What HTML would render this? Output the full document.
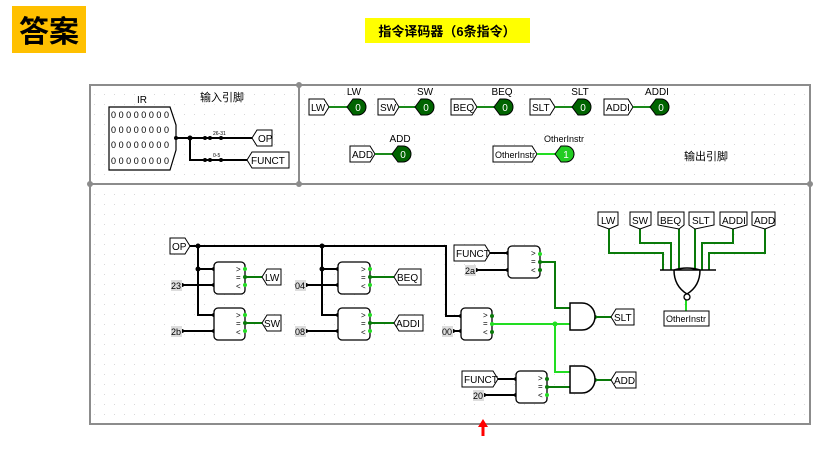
<!DOCTYPE html>
<html><head><meta charset="utf-8"><style>
body{margin:0;background:#fff;width:829px;height:458px;overflow:hidden}
svg text{font-family:"Liberation Sans","Noto Sans CJK SC",sans-serif}
</style></head><body>
<svg width="829" height="458" viewBox="0 0 829 458" xmlns="http://www.w3.org/2000/svg">
<defs>
<pattern id="dots" width="10" height="10" patternUnits="userSpaceOnUse"><rect x="4" y="4" width="1" height="1" fill="#d8d8d8"/></pattern>
</defs>
<!-- title -->
<rect x="12" y="6" width="74" height="47" fill="#ffc000"/>
<text x="49" y="42" font-size="30" font-weight="bold" text-anchor="middle" font-family="Noto Sans CJK SC,sans-serif">答案</text>
<rect x="365" y="18" width="165" height="25" fill="#ffff00"/>
<text x="447" y="36" font-size="13" font-weight="bold" text-anchor="middle">指令译码器（6条指令）</text>

<!-- frame -->
<rect x="90" y="85" width="720" height="339" fill="url(#dots)" stroke="#8c8c8c" stroke-width="2"/>
<line x1="299" y1="85" x2="299" y2="184" stroke="#8c8c8c" stroke-width="2"/>
<line x1="90" y1="184" x2="810" y2="184" stroke="#8c8c8c" stroke-width="2"/>
<circle cx="299" cy="85" r="3" fill="#8c8c8c"/><circle cx="299" cy="184" r="3" fill="#8c8c8c"/>
<circle cx="90" cy="184" r="3" fill="#8c8c8c"/><circle cx="810" cy="184" r="3" fill="#8c8c8c"/>

<g font-size="10" fill="#000">
<!-- input pins -->
<text x="142" y="103" text-anchor="middle">IR</text>
<text x="222" y="101" text-anchor="middle" font-size="11">输入引脚</text>
<path d="M109,107 H170 L176,125 V150 L170,170 H109 Z" fill="#fff" stroke="#000" stroke-width="1.2"/>
<g font-size="9" font-family="Liberation Mono,monospace">
<text x="111" y="118" textLength="58">00000000</text>
<text x="111" y="133" textLength="58">00000000</text>
<text x="111" y="148" textLength="58">00000000</text>
<text x="111" y="164" textLength="58">00000000</text>
</g>
<g stroke="#000" stroke-width="2" fill="none">
<path d="M176,138 H252"/><path d="M190,138 V160 H247"/>
</g>
<g fill="#000"><circle cx="176" cy="138" r="2"/><circle cx="190" cy="138" r="2.5"/><circle cx="205" cy="138" r="2"/><circle cx="210" cy="138" r="2"/><circle cx="221" cy="138" r="2"/><circle cx="205" cy="160" r="2"/><circle cx="210" cy="160" r="2"/><circle cx="221" cy="160" r="2"/></g>
<text x="213" y="135" font-size="5">26-31</text><text x="213" y="157" font-size="5">0-5</text>
<path d="M252,138 L257,130 H272 V146 H257 Z" fill="#fff" stroke="#000"/><text x="258" y="142">OP</text>
<path d="M247,160 L252,152 H289 V168 H252 Z" fill="#fff" stroke="#000"/><text x="251" y="164">FUNCT</text>

<!-- output pins -->
<g>
<text x="354" y="95" text-anchor="middle">LW</text>
<path d="M309,99 H324 L329,107 L324,115 H309 Z" fill="#fff" stroke="#000"/><text x="311" y="111">LW</text>
<line x1="329" y1="107" x2="347" y2="107" stroke="#1a8a1a" stroke-width="2"/>
<path d="M347,107 L353,99 H358 A8,8 0 0 1 358,115 H353 Z" fill="#006400" stroke="#000"/><text x="358" y="111" fill="#fff" text-anchor="middle">0</text>

<text x="425" y="95" text-anchor="middle">SW</text>
<path d="M378,99 H394 L399,107 L394,115 H378 Z" fill="#fff" stroke="#000"/><text x="380" y="111">SW</text>
<line x1="399" y1="107" x2="415" y2="107" stroke="#1a8a1a" stroke-width="2"/>
<path d="M415,107 L421,99 H426 A8,8 0 0 1 426,115 H421 Z" fill="#006400" stroke="#000"/><text x="426" y="111" fill="#fff" text-anchor="middle">0</text>

<text x="502" y="95" text-anchor="middle">BEQ</text>
<path d="M451,99 H472 L477,107 L472,115 H451 Z" fill="#fff" stroke="#000"/><text x="453" y="111">BEQ</text>
<line x1="477" y1="107" x2="494" y2="107" stroke="#1a8a1a" stroke-width="2"/>
<path d="M494,107 L500,99 H505 A8,8 0 0 1 505,115 H500 Z" fill="#006400" stroke="#000"/><text x="505" y="111" fill="#fff" text-anchor="middle">0</text>

<text x="580" y="95" text-anchor="middle">SLT</text>
<path d="M530,99 H550 L555,107 L550,115 H530 Z" fill="#fff" stroke="#000"/><text x="532" y="111">SLT</text>
<line x1="555" y1="107" x2="572" y2="107" stroke="#1a8a1a" stroke-width="2"/>
<path d="M572,107 L578,99 H583 A8,8 0 0 1 583,115 H578 Z" fill="#006400" stroke="#000"/><text x="583" y="111" fill="#fff" text-anchor="middle">0</text>

<text x="657" y="95" text-anchor="middle">ADDI</text>
<path d="M604,99 H628 L633,107 L628,115 H604 Z" fill="#fff" stroke="#000"/><text x="606" y="111">ADDI</text>
<line x1="633" y1="107" x2="650" y2="107" stroke="#1a8a1a" stroke-width="2"/>
<path d="M650,107 L656,99 H661 A8,8 0 0 1 661,115 H656 Z" fill="#006400" stroke="#000"/><text x="661" y="111" fill="#fff" text-anchor="middle">0</text>

<text x="400" y="142" text-anchor="middle">ADD</text>
<path d="M350,146 H370 L375,154 L370,162 H350 Z" fill="#fff" stroke="#000"/><text x="352" y="158">ADD</text>
<line x1="375" y1="154" x2="392" y2="154" stroke="#1a8a1a" stroke-width="2"/>
<path d="M392,154 L398,146 H403 A8,8 0 0 1 403,162 H398 Z" fill="#006400" stroke="#000"/><text x="403" y="158" fill="#fff" text-anchor="middle">0</text>

<text x="564" y="142" text-anchor="middle" font-size="9">OtherInstr</text>
<path d="M493,146 H532 L537,154 L532,162 H493 Z" fill="#fff" stroke="#000"/><text x="495" y="158" font-size="9">OtherInstr</text>
<line x1="537" y1="154" x2="555" y2="154" stroke="#22dd22" stroke-width="2"/>
<path d="M555,154 L561,146 H566 A8,8 0 0 1 566,162 H561 Z" fill="#22cc22" stroke="#000"/><text x="566" y="158" fill="#fff" text-anchor="middle">1</text>
<text x="706" y="160" text-anchor="middle" font-size="11">输出引脚</text>
</g>

<!-- circuit black wires -->
<g stroke="#000" stroke-width="2" fill="none">
<path d="M190,246 H446 V316 H461"/>
<path d="M198,246 V315 H214"/><path d="M198,269 H214"/>
<path d="M322,246 V315 H338"/><path d="M322,269 H338"/>
<path d="M182,285 H214"/><path d="M182,331 H214"/>
<path d="M306,285 H338"/><path d="M306,331 H338"/>
<path d="M453,331 H461"/>
<path d="M490,253 H508"/><path d="M476,270 H508"/>
<path d="M498,379 H516"/><path d="M484,395 H516"/>
</g>
<g fill="#000">
<circle cx="198" cy="246" r="2.5"/><circle cx="322" cy="246" r="2.5"/><circle cx="198" cy="269" r="2.5"/><circle cx="322" cy="269" r="2.5"/>
<circle cx="214" cy="269" r="2"/><circle cx="214" cy="285" r="2"/><circle cx="214" cy="315" r="2"/><circle cx="214" cy="331" r="2"/>
<circle cx="338" cy="269" r="2"/><circle cx="338" cy="285" r="2"/><circle cx="338" cy="315" r="2"/><circle cx="338" cy="331" r="2"/>
<circle cx="182" cy="285" r="2"/><circle cx="182" cy="331" r="2"/><circle cx="306" cy="285" r="2"/><circle cx="306" cy="331" r="2"/>
<circle cx="461" cy="316" r="2"/><circle cx="461" cy="331" r="2"/><circle cx="453" cy="331" r="2"/>
<circle cx="508" cy="253" r="2"/><circle cx="508" cy="270" r="2"/><circle cx="476" cy="270" r="2"/>
<circle cx="516" cy="379" r="2"/><circle cx="516" cy="395" r="2"/><circle cx="484" cy="395" r="2"/>
</g>
<!-- OP / constants -->
<path d="M170,238 H185 L190,246 L185,254 H170 Z" fill="#fff" stroke="#000"/><text x="172" y="250">OP</text>
<g font-size="9"><rect x="171" y="280" width="11" height="11" fill="#ddd"/><text x="171" y="289">23</text>
<rect x="171" y="326" width="11" height="11" fill="#ddd"/><text x="171" y="335">2b</text>
<rect x="295" y="280" width="11" height="11" fill="#ddd"/><text x="295" y="289">04</text>
<rect x="295" y="326" width="11" height="11" fill="#ddd"/><text x="295" y="335">08</text>
<rect x="442" y="326" width="11" height="11" fill="#ddd"/><text x="442" y="335">00</text>
<rect x="465" y="265" width="11" height="11" fill="#ddd"/><text x="465" y="274">2a</text>
<rect x="473" y="390" width="11" height="11" fill="#ddd"/><text x="473" y="399">20</text></g>
<path d="M454,245 H485 L490,253 L485,261 H454 Z" fill="#fff" stroke="#000"/><text x="456" y="257">FUNCT</text>
<path d="M462,371 H493 L498,379 L493,387 H462 Z" fill="#fff" stroke="#000"/><text x="464" y="383">FUNCT</text>

<!-- comparators -->
<g fill="#fff" stroke="#000" stroke-width="1.3">
<rect x="214" y="262" width="31" height="32" rx="4"/><rect x="214" y="308" width="31" height="32" rx="4"/>
<rect x="338" y="262" width="32" height="32" rx="4"/><rect x="338" y="308" width="32" height="32" rx="4"/>
<rect x="508" y="246" width="32" height="32" rx="4"/><rect x="461" y="308" width="31" height="32" rx="4"/>
<rect x="516" y="371" width="31" height="32" rx="4"/>
</g>
<g font-size="8">
<text x="236" y="272">&gt;</text><text x="236" y="280">=</text><text x="236" y="289">&lt;</text>
<text x="236" y="318">&gt;</text><text x="236" y="326">=</text><text x="236" y="335">&lt;</text>
<text x="361" y="272">&gt;</text><text x="361" y="280">=</text><text x="361" y="289">&lt;</text>
<text x="361" y="318">&gt;</text><text x="361" y="326">=</text><text x="361" y="335">&lt;</text>
<text x="531" y="256">&gt;</text><text x="531" y="264">=</text><text x="531" y="273">&lt;</text>
<text x="483" y="318">&gt;</text><text x="483" y="326">=</text><text x="483" y="335">&lt;</text>
<text x="538" y="381">&gt;</text><text x="538" y="389">=</text><text x="538" y="398">&lt;</text>
</g>
<!-- green wires -->
<g stroke="#0a7a0a" stroke-width="2" fill="none">
<path d="M245,277 H262"/><path d="M245,323 H262"/><path d="M370,277 H394"/><path d="M370,323 H394"/>
<path d="M540,262 H555 V308 H570"/><path d="M547,387 H570"/>
<path d="M595,317 H611"/><path d="M595,380 H611"/>
<path d="M609,229 V253 H663 V270"/><path d="M640,229 V243 H671 V270"/><path d="M679,229 V270"/><path d="M695,229 V270"/><path d="M733,229 V243 H702 V270"/><path d="M765,229 V253 H709 V270"/>
</g>
<g stroke="#22dd22" stroke-width="2" fill="none"><path d="M492,324 H570"/><path d="M555,324 V372 H570"/><path d="M686,300 V311"/></g>
<g fill="#0a7a0a">
<circle cx="245" cy="269" r="2" fill="#22dd22"/><circle cx="245" cy="277" r="2"/><circle cx="245" cy="285" r="2" fill="#22dd22"/>
<circle cx="245" cy="315" r="2" fill="#22dd22"/><circle cx="245" cy="323" r="2"/><circle cx="245" cy="331" r="2" fill="#22dd22"/>
<circle cx="370" cy="269" r="2" fill="#22dd22"/><circle cx="370" cy="277" r="2"/><circle cx="370" cy="285" r="2" fill="#22dd22"/>
<circle cx="370" cy="315" r="2" fill="#22dd22"/><circle cx="370" cy="323" r="2"/><circle cx="370" cy="331" r="2" fill="#22dd22"/>
<circle cx="540" cy="254" r="2" fill="#22dd22"/><circle cx="540" cy="262" r="2"/><circle cx="540" cy="270" r="2"/>
<circle cx="492" cy="316" r="2"/><circle cx="492" cy="324" r="2" fill="#22dd22"/><circle cx="492" cy="332" r="2"/>
<circle cx="547" cy="379" r="2"/><circle cx="547" cy="387" r="2"/><circle cx="547" cy="395" r="2" fill="#22dd22"/>
<circle cx="555" cy="324" r="2.5" fill="#22dd22"/><circle cx="595" cy="317" r="2"/><circle cx="595" cy="380" r="2"/>
</g>
<!-- AND gates -->
<g fill="#fff" stroke="#000" stroke-width="1.5">
<path d="M570,303 H582 A13,13.5 0 0 1 582,330 H570 Z"/>
<path d="M570,366 H582 A13,13.5 0 0 1 582,393 H570 Z"/>
</g>
<!-- output tags -->
<path d="M262,277 L267,269 H281 V285 H267 Z" fill="#fff" stroke="#000"/><text x="265" y="281">LW</text>
<path d="M262,323 L267,315 H281 V331 H267 Z" fill="#fff" stroke="#000"/><text x="264" y="327">SW</text>
<path d="M394,277 L399,269 H421 V285 H399 Z" fill="#fff" stroke="#000"/><text x="397" y="281">BEQ</text>
<path d="M394,323 L399,315 H423 V331 H399 Z" fill="#fff" stroke="#000"/><text x="396" y="327">ADDI</text>
<path d="M611,317 L616,309 H634 V325 H616 Z" fill="#fff" stroke="#000"/><text x="614" y="321">SLT</text>
<path d="M611,380 L616,372 H636 V388 H616 Z" fill="#fff" stroke="#000"/><text x="614" y="384">ADD</text>
<!-- top tags -->
<g fill="#fff" stroke="#000">
<path d="M598,212 H618 V225 L609,229 L598,225 Z"/><path d="M630,212 H651 V225 L640,229 L630,225 Z"/>
<path d="M658,212 H684 V225 L679,229 L658,225 Z"/><path d="M689,212 H714 V225 L695,229 L689,225 Z"/>
<path d="M720,212 H747 V225 L733,229 L720,225 Z"/><path d="M752,212 H775 V225 L765,229 L752,225 Z"/>
</g>
<text x="601" y="224">LW</text><text x="632" y="224">SW</text><text x="660" y="224">BEQ</text><text x="692" y="224">SLT</text><text x="722" y="224">ADDI</text><text x="754" y="224">ADD</text>
<!-- NOR -->
<path d="M660,270 H716 M674,270 Q687,266 700,270 Q700,286 687,294 Q674,286 674,270 Z" fill="#fff" stroke="#000" stroke-width="1.5"/>
<circle cx="687" cy="297" r="3" fill="#fff" stroke="#000" stroke-width="1.3"/>
<path d="M664,311 H709 V326 H664 Z" fill="#fff" stroke="#000"/><text x="666" y="322" font-size="9">OtherInstr</text>
<!-- red arrow -->
<path d="M483,419 L478,427 H481.5 V436 H484.5 V427 H488 Z" fill="#ff0000"/>
</g>
</svg>
</body></html>
